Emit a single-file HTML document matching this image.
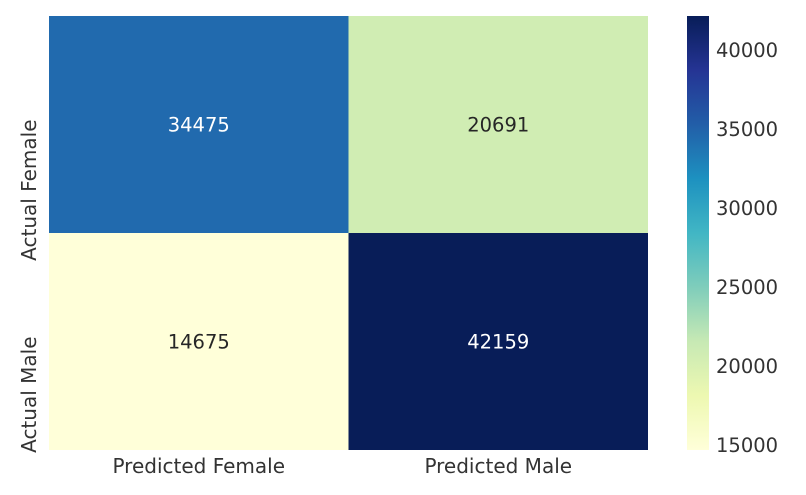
<!DOCTYPE html>
<html><head><meta charset="utf-8"><style>
body{margin:0;background:#fff;}
svg text{font-family:"DejaVu Sans","Liberation Sans",sans-serif;}
</style></head><body>
<svg id="chart" width="806" height="490">
<defs><linearGradient id="cmap" x1="0" y1="1" x2="0" y2="0">
<stop offset="0" stop-color="#ffffd9"/><stop offset="0.125" stop-color="#edf8b1"/><stop offset="0.25" stop-color="#c7e9b4"/><stop offset="0.375" stop-color="#7fcdbb"/><stop offset="0.5" stop-color="#41b6c4"/><stop offset="0.625" stop-color="#1d91c0"/><stop offset="0.75" stop-color="#225ea8"/><stop offset="0.875" stop-color="#253494"/><stop offset="1" stop-color="#081d58"/>
</linearGradient></defs>
<g id="cells"></g>
<g id="labels"></g>
<rect x="687" y="16" width="22" height="434" fill="url(#cmap)"/>
<g id="cbticks"></g>
</svg>
<script>
const rowLabels=["Actual Female","Actual Male"];
const colLabels=["Predicted Female","Predicted Male"];
const values=[[34475,20691],[14675,42159]];
const cbTicks=[15000,20000,25000,30000,35000,40000];
const NS="http://www.w3.org/2000/svg";
const L=49,R=648,T=16,B=450;
const vmin=Math.min(...values.flat()),vmax=Math.max(...values.flat());
const stops=["#ffffd9","#edf8b1","#c7e9b4","#7fcdbb","#41b6c4","#1d91c0","#225ea8","#253494","#081d58"];
function hex(c){return [1,3,5].map(i=>parseInt(c.substr(i,2),16));}
function color(v){let t=(v-vmin)/(vmax-vmin)*(stops.length-1);let i=Math.min(Math.floor(t),stops.length-2);let f=t-i;let a=hex(stops[i]),b=hex(stops[i+1]);return `rgb(${a.map((x,k)=>Math.round(x+(b[k]-x)*f)).join(",")})`;}
function lum(v){return (v-vmin)/(vmax-vmin);}
const cw=(R-L)/colLabels.length,ch=(B-T)/rowLabels.length;
function cbY(v){return B-(v-vmin)/(vmax-vmin)*(B-T);}
function mk(tag,attrs,parent){const e=document.createElementNS(NS,tag);for(const k in attrs)e.setAttribute(k,attrs[k]);parent.appendChild(e);return e;}
const cells=document.getElementById("cells"),labels=document.getElementById("labels"),cb=document.getElementById("cbticks");
values.forEach((row,r)=>row.forEach((v,c)=>{
 const rect=mk("rect",{x:L+c*cw,y:T+r*ch,width:cw,height:ch,fill:color(v)},cells);
 
 
 const t=mk("text",{x:L+c*cw+cw/2,y:T+r*ch+ch/2+7,"text-anchor":"middle","font-size":"19.5",fill:lum(v)>0.5?"#ffffff":"#262626"},cells);
 t.textContent=v;
 
 
}));
colLabels.forEach((s,c)=>{
 const t=mk("text",{x:L+c*cw+cw/2,y:473,"text-anchor":"middle","font-size":"20",fill:"#333"},labels);
 t.textContent=s;
 
 
});
rowLabels.forEach((s,r)=>{
 const y=T+r*ch+ch/2-5;
 const t=mk("text",{x:36,y:y,"text-anchor":"end","font-size":"20",fill:"#333",transform:`rotate(-90 36 ${y})`},labels);
 t.textContent=s;
 
 
});
cbTicks.forEach(v=>{
 const t=mk("text",{x:716,y:cbY(v)+7,"font-size":"19.5",fill:"#333"},cb);
 t.textContent=v;
 
 
});
</script>
</body></html>
